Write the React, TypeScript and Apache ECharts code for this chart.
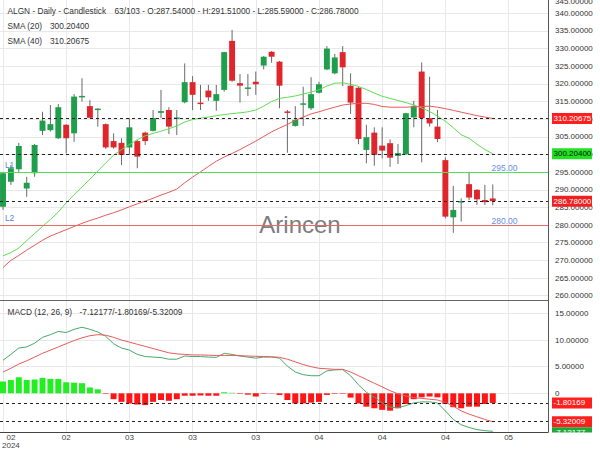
import React, { useEffect, useRef } from 'react';
import * as echarts from 'echarts';

const FONT = "'Liberation Sans', Arial, sans-serif";

// ---- header ----
const tickerName = 'ALGN - Daily - Candlestick';
const barCounter = '63/103';
const macdTitle = 'MACD (12, 26, 9)';

// ---- x axis (bar index scale) ----
const xMin = -0.38;
const xMax = 68.99;
const gridLinePositions = [0, 8, 16, 24, 32, 40, 48, 56, 64];
const tickPositions = [1, 8, 16, 24, 32, 40, 48, 56, 64];
const tickLabels = ['02\n2024', '02', '03', '03', '03', '04', '04', '04', '05'];

// ---- y axis ticks ----
const priceTicks = [260, 265, 270, 275, 280, 285, 290, 295, 300, 305, 310, 315, 320, 325, 330, 335, 340];
const macdTicks = [0, 5, 10, 15];

// ---- candles ----
const opens = [285.2, 292.3, 295.8, 290.4, 294.7, 306.7, 306.9, 304.6, 308.4, 306.0, 316.2, 313.7, 312.7, 308.6, 303.8, 303.3, 302.0, 303.8, 306.2, 306.7, 311.8, 312.6, 310.1, 314.8, 320.5, 314.7, 318.1, 315.2, 318.3, 332.2, 320.2, 318.6, 320.6, 325.2, 329.1, 326.3, 312.2, 308.1, 314.1, 313.1, 317.5, 324.1, 323.0, 329.0, 319.5, 318.9, 301.3, 306.2, 302.5, 303.2, 299.6, 300.1, 310.5, 323.5, 310.3, 307.9, 298.4, 282.2, 286.4, 291.6, 290.0, 287.1, 287.54];
const closes = [294.7, 296.1, 302.4, 292.0, 302.7, 309.6, 308.6, 313.4, 304.6, 316.4, 316.6, 310.4, 313.0, 302.0, 302.0, 299.9, 307.7, 299.4, 303.8, 310.3, 312.3, 307.9, 310.5, 320.5, 316.9, 314.3, 316.2, 317.1, 329.0, 320.9, 319.5, 319.0, 319.9, 327.7, 327.7, 319.5, 311.9, 309.8, 314.5, 317.1, 319.9, 330.0, 327.5, 324.7, 314.7, 304.4, 304.9, 299.9, 301.1, 299.1, 300.4, 311.7, 313.7, 310.3, 308.8, 304.4, 282.4, 284.3, 286.8, 287.8, 287.3, 286.5, 286.78];
const lows = [284.3, 291.4, 295.1, 288.0, 293.7, 305.5, 306.5, 304.4, 300.3, 303.6, 315.0, 310.3, 307.9, 301.6, 301.6, 297.0, 299.9, 296.1, 302.7, 306.5, 310.3, 305.8, 305.5, 314.5, 312.6, 312.6, 315.2, 312.4, 317.8, 320.6, 314.7, 316.6, 316.9, 324.1, 326.0, 313.1, 300.5, 307.9, 308.1, 312.6, 317.3, 323.9, 322.7, 319.4, 311.5, 302.9, 297.5, 296.8, 298.9, 296.5, 297.3, 299.9, 307.7, 297.8, 307.9, 303.5, 281.9, 277.8, 281.0, 287.1, 285.7, 285.7, 285.59];
const highs = [295.1, 297.0, 303.3, 293.7, 303.0, 312.1, 314.0, 314.3, 308.6, 317.1, 321.6, 315.4, 313.1, 308.8, 306.0, 304.6, 310.3, 304.1, 306.5, 312.6, 318.3, 313.4, 312.6, 325.8, 322.2, 319.7, 319.7, 319.7, 329.1, 335.3, 322.8, 322.8, 323.5, 327.9, 329.3, 326.5, 312.6, 313.7, 319.2, 321.9, 320.6, 330.7, 328.5, 330.7, 323.0, 319.2, 308.4, 307.7, 307.7, 304.3, 303.0, 311.8, 315.2, 326.1, 322.0, 312.6, 299.2, 291.1, 287.6, 295.1, 290.2, 291.4, 291.51];

// ---- moving averages ----
const sma20 = [271.3, 272.2, 273.5, 275.6, 277.6, 279.6, 281.6, 283.7, 286.3, 288.6, 290.8, 293.0, 295.3, 297.6, 299.8, 301.4, 302.8, 304.2, 305.3, 306.0, 306.6, 307.3, 308.1, 309.2, 309.9, 310.3, 310.6, 311.0, 311.3, 311.6, 311.8, 312.1, 312.6, 313.7, 315.0, 315.9, 316.2, 316.6, 317.1, 317.7, 318.3, 319.4, 320.2, 320.3, 319.9, 319.3, 318.4, 317.4, 316.5, 315.9, 315.3, 314.7, 314.0, 313.2, 312.2, 310.9, 309.4, 307.6, 305.6, 304.6, 302.9, 301.4, 300.204];
const sma40 = [268.0, 270.0, 271.4, 272.9, 274.3, 275.7, 276.9, 277.8, 278.7, 279.6, 280.5, 281.3, 282.0, 282.8, 283.5, 284.3, 285.2, 286.0, 286.8, 287.6, 288.5, 289.3, 290.2, 292.0, 293.6, 295.1, 296.6, 298.1, 299.3, 300.3, 301.4, 302.6, 303.8, 305.1, 306.4, 307.5, 308.5, 309.7, 310.6, 311.5, 312.1, 312.8, 313.4, 314.0, 314.3, 314.5, 314.5, 314.2, 313.6, 313.4, 313.4, 313.4, 313.5, 313.6, 313.7, 313.4, 313.0, 312.5, 312.0, 311.5, 311.0, 310.6, 310.20675];

// ---- levels ----
const levelValues = [295, 280];
const levelNames = ['L1', 'L2'];

// ---- MACD ----
const macdLine = [6.2, 7.3, 8.5, 8.7, 9.4, 10.5, 11.0, 11.6, 11.4, 12.0, 12.4, 12.0, 11.5, 10.7, 9.3, 8.5, 8.1, 7.3, 6.9, 6.8, 6.7, 6.4, 6.4, 7.0, 6.9, 6.9, 6.8, 6.75, 7.5, 7.3, 7.0, 6.8, 6.6, 6.8, 6.8, 6.6, 5.1, 4.0, 3.5, 3.3, 3.3, 4.2, 4.4, 4.45, 3.3, 1.6, 0.2, -0.7, -1.8, -2.6, -2.7, -2.3, -1.8, -1.6, -1.6, -1.8, -3.3, -4.9, -5.9, -6.4, -6.8, -7.0, -7.12177];
const signalLine = [4.0, 4.7, 5.5, 6.1, 6.8, 7.5, 8.1, 8.7, 9.3, 9.9, 10.4, 10.8, 11.0, 10.9, 10.5, 10.0, 9.6, 9.2, 8.8, 8.4, 8.0, 7.6, 7.4, 7.3, 7.2, 7.2, 7.15, 7.1, 7.1, 7.1, 7.05, 7.0, 6.95, 6.9, 6.85, 6.75, 6.4, 5.9, 5.4, 5.0, 4.7, 4.6, 4.5, 4.5, 4.0, 3.3, 2.6, 1.9, 1.2, 0.5, -0.1, -0.5, -0.8, -0.95, -1.1, -1.25, -1.7, -2.4, -3.3, -3.9, -4.4, -4.9, -5.32009];
const histogram = [2.2, 2.5, 3.0, 2.5, 2.6, 2.9, 2.7, 2.7, 2.1, 2.0, 1.9, 1.1, 0.75, -0.1, -1.1, -1.6, -1.9, -2.1, -2.2, -1.6, -1.25, -1.4, -1.1, -0.45, -0.45, -0.4, -0.45, -0.45, 0.2, 0.1, -0.1, -0.25, -0.6, -0.1, -0.05, -0.3, -1.25, -1.9, -1.9, -1.75, -1.6, -0.3, -0.1, -0.1, -0.8, -1.9, -2.5, -2.8, -3.1, -3.25, -2.8, -2.0, -1.1, -0.75, -0.6, -0.75, -2.0, -2.6, -2.8, -2.5, -2.5, -2.0, -1.80169];

const UP = '#1f9f4b';
const DOWN = '#e0262c';
const WICK = '#6a6a6a';

export default function App() {
  const ref = useRef<HTMLDivElement>(null);

  useEffect(() => {
    if (!ref.current) return;
    const chart = echarts.init(ref.current, undefined, { renderer: 'svg' });

    const candleData = opens.map((o, i) => [i, o, closes[i], lows[i], highs[i]]);
    const last = opens.length - 1;
    const pairs = (arr: number[]) => arr.map((v, i) => [i, v]);

    const dashed = { type: [3, 3], color: '#222', width: 1 };
    const splitX = { show: true, lineStyle: { color: '#e8e8e8' } };

    const option: any = {
      animation: false,
      backgroundColor: '#fff',
      textStyle: { fontFamily: FONT },
      grid: [
        { left: 0, right: 52, top: 0, height: 300, containLabel: false, outerBoundsMode: 'none' },
        { left: 0, right: 52, top: 300, height: 132, containLabel: false, outerBoundsMode: 'none' },
      ],
      xAxis: [
        {
          type: 'value', gridIndex: 0, min: xMin, max: xMax,
          axisLine: { show: true, onZero: false, lineStyle: { color: '#666' } },
          axisTick: { show: false, customValues: gridLinePositions },
          axisLabel: { show: false },
          splitLine: splitX,
        },
        {
          type: 'value', gridIndex: 1, min: xMin, max: xMax,
          axisLine: { show: true, onZero: false, lineStyle: { color: '#444' } },
          axisTick: { show: false, customValues: gridLinePositions },
          axisLabel: {
            show: true, customValues: tickPositions,
            formatter: (v: number) => {
              const k = tickPositions.indexOf(Math.round(v));
              return k >= 0 ? tickLabels[k] : '';
            },
            fontSize: 8, color: '#444', margin: 1.5, lineHeight: 8, fontFamily: FONT,
            showMinLabel: true, showMaxLabel: true,
          },
          splitLine: splitX,
        },
      ],
      yAxis: [
        {
          type: 'value', gridIndex: 0, position: 'right', min: 258.78, max: 343.77,
          axisLine: { show: true, onZero: false, lineStyle: { color: '#555' } },
          axisTick: { show: false, customValues: priceTicks },
          axisLabel: { customValues: priceTicks, formatter: (v: number) => v.toFixed(5), fontSize: 8, color: '#333', margin: 7, fontFamily: FONT },
          splitLine: { show: true, lineStyle: { color: '#e8e8e8' } },
        },
        {
          type: 'value', gridIndex: 1, position: 'right', min: -7.25, max: 17.5,
          axisLine: { show: true, onZero: false, lineStyle: { color: '#555' } },
          axisTick: { show: false, customValues: macdTicks },
          axisLabel: { customValues: macdTicks, formatter: (v: number) => (v === 0 ? '0' : v.toFixed(5)), fontSize: 8, color: '#333', margin: 7, fontFamily: FONT },
          splitLine: { show: true, lineStyle: { color: '#e8e8e8' } },
        },
      ],
      series: [
        {
          type: 'custom', xAxisIndex: 0, yAxisIndex: 0, z: 3,
          dimensions: ['i', 'open', 'close', 'low', 'high'],
          encode: { x: 0, y: [1, 2, 3, 4] },
          data: candleData,
          renderItem: (params: any, api: any) => {
            const x = api.value(0);
            const o = api.value(1), c = api.value(2), l = api.value(3), h = api.value(4);
            const pO = api.coord([x, o]);
            const pC = api.coord([x, c]);
            const pL = api.coord([x, l]);
            const pH = api.coord([x, h]);
            const w = api.size([1, 0])[0] * 0.75;
            const top = Math.min(pO[1], pC[1]);
            const hh = Math.max(Math.abs(pO[1] - pC[1]), 1.5);
            return {
              type: 'group',
              children: [
                { type: 'line', shape: { x1: pO[0], y1: pH[1], x2: pO[0], y2: pL[1] }, style: { stroke: WICK, lineWidth: 1 } },
                { type: 'rect', shape: { x: pO[0] - w / 2, y: top, width: w, height: hh }, style: { fill: c >= o ? UP : DOWN } },
              ],
            };
          },
        },
        {
          type: 'line', name: 'SMA (20)', xAxisIndex: 0, yAxisIndex: 0, data: pairs(sma20), symbol: 'none', z: 4,
          lineStyle: { color: '#5fdc55', width: 1 }, silent: true,
        },
        {
          type: 'line', name: 'SMA (40)', xAxisIndex: 0, yAxisIndex: 0, data: pairs(sma40), symbol: 'none', z: 4,
          lineStyle: { color: '#e85a5a', width: 1 }, silent: true,
          markLine: {
            silent: true, symbol: 'none', label: { show: false },
            data: [
              { yAxis: levelValues[0], lineStyle: { type: 'solid', color: '#55dd55', width: 1.2 } },
              { yAxis: levelValues[1], lineStyle: { type: 'solid', color: '#e86868', width: 1.2 } },
              { yAxis: sma40[last], lineStyle: dashed },
              { yAxis: sma20[last], lineStyle: dashed },
              { yAxis: closes[last], lineStyle: dashed },
            ],
          },
        },
        {
          type: 'bar', xAxisIndex: 1, yAxisIndex: 1, barWidth: 6, silent: true,
          data: histogram.map((v, i) => ({ value: [i, v], itemStyle: { color: v >= 0 ? '#22ee22' : '#ff1515' } })),
        },
        {
          type: 'line', xAxisIndex: 1, yAxisIndex: 1, data: pairs(macdLine), symbol: 'none', z: 4,
          lineStyle: { color: '#48a86a', width: 1 }, silent: true,
        },
        {
          type: 'line', xAxisIndex: 1, yAxisIndex: 1, data: pairs(signalLine), symbol: 'none', z: 4,
          lineStyle: { color: '#e85a5a', width: 1 }, silent: true,
          markLine: {
            silent: true, symbol: 'none', label: { show: false },
            data: [
              { yAxis: histogram[last], lineStyle: dashed },
              { yAxis: signalLine[last], lineStyle: dashed },
            ],
          },
        },
      ],
    };

    chart.setOption(option);

    const py = (axis: number, v: number) => chart.convertToPixel({ yAxisIndex: axis } as any, v) as number;
    const txt = (x: number, y: number, text: string, fill: string, size: number, z = 40, align = 'left') => ({
      type: 'text', x, y, z,
      style: { text, fill, fontSize: size, fontFamily: FONT, align, verticalAlign: 'middle', textAlign: align, textVerticalAlign: 'middle' },
    });
    const tag = (y: number, text: string, bg: string, fg: string) => [
      { type: 'rect', z: 50, shape: { x: 552, y: y - 5.5, width: 40, height: 11 }, style: { fill: bg } },
      txt(553.5, y, text, fg, 8, 51),
    ];

    const f5 = (v: number) => v.toFixed(5);
    const ohlc = `${barCounter} - O:${f5(opens[last])} - H:${f5(highs[last])} - L:${f5(lows[last])} - C:${f5(closes[last])}`;

    const graphic: any[] = [
      { type: 'text', x: 300, y: 224, z: 1, style: { text: 'Arincen', fill: '#7d7d7d', fontSize: 24, fontFamily: FONT, align: 'center', verticalAlign: 'middle', textAlign: 'center', textVerticalAlign: 'middle' } },
      txt(7.5, 10.5, tickerName, '#333', 8.3),
      txt(114.5, 10.5, ohlc, '#333', 8.3),
      txt(7.5, 25.5, 'SMA (20)', '#333', 8.3),
      txt(50, 25.5, f5(sma20[last]), '#333', 8.3),
      txt(7.5, 40.5, 'SMA (40)', '#333', 8.3),
      txt(50, 40.5, f5(sma40[last]), '#333', 8.3),
      txt(7.5, 311.5, macdTitle, '#333', 8.3),
      txt(79.5, 311.5, `${f5(macdLine[last])}/${f5(histogram[last])}/${f5(signalLine[last])}`, '#333', 8.3),
      txt(555, 1.5, f5(345), '#333', 8),
      txt(5, py(0, levelValues[0]) - 7.5, levelNames[0], '#5a7ee0', 8.3, 1),
      txt(5, py(0, levelValues[1]) - 7.5, levelNames[1], '#5a7ee0', 8.3, 1),
      txt(491.5, py(0, levelValues[0]) - 4.5, levelValues[0].toFixed(2), '#6a8ee8', 8.5, 5),
      txt(491.5, py(0, levelValues[1]) - 4.5, levelValues[1].toFixed(2), '#6a8ee8', 8.5, 5),
      ...tag(py(0, sma40[last]), f5(sma40[last]), '#ff1f1f', '#fff'),
      ...tag(py(0, sma20[last]), f5(sma20[last]), '#22e022', '#111'),
      ...tag(py(0, closes[last]), f5(closes[last]), '#f02020', '#fff'),
      ...tag(py(1, histogram[last]), f5(histogram[last]), '#ff1f1f', '#fff'),
      ...tag(py(1, signalLine[last]), f5(signalLine[last]), '#ff1f1f', '#fff'),
      ...tag(py(1, signalLine[last]) + 11, f5(macdLine[last]), '#1fa83a', '#fff'),
      { type: 'rect', z: 60, shape: { x: 549, y: 432.5, width: 51, height: 18 }, style: { fill: '#fff' } },
    ];
    chart.setOption({ graphic });

    return () => chart.dispose();
  }, []);

  return (
    <div
      ref={ref}
      style={{ position: 'absolute', left: 0, top: 0, width: 600, height: 450, background: '#fff' }}
    />
  );
}
